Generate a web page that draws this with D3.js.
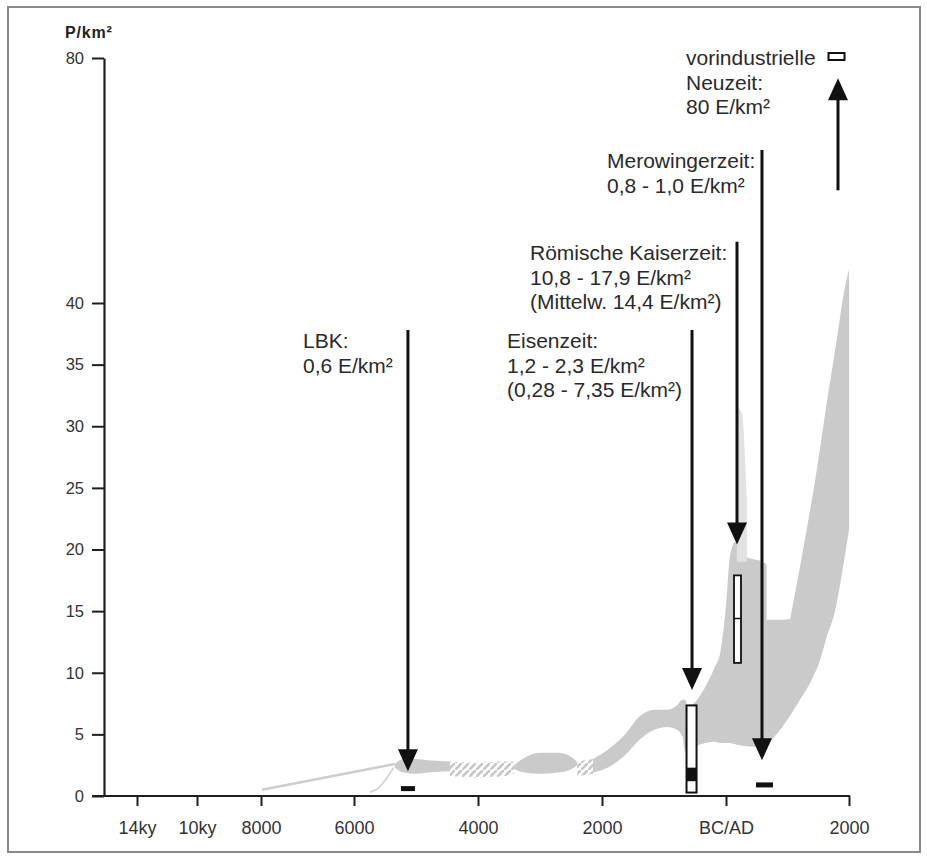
<!DOCTYPE html>
<html><head><meta charset="utf-8">
<script src="https://cdn.jsdelivr.net/npm/d3@7"></script>
<style>
html,body{margin:0;padding:0;background:#fff;}
svg{display:block;font-family:"Liberation Sans",Arial,Helvetica,sans-serif;}
</style></head>
<body><svg id="c" width="927" height="859"></svg>
<script>
// ---- data ----
const xYears = [-14000, -10000, -8000, -6000, -4000, -2000, 0, 2000];
const xTickLabels = ["14ky", "10ky", "8000", "6000", "4000", "2000", "BC/AD", "2000"];
const yTicks = [0, 5, 10, 15, 20, 25, 30, 35, 40, 80];

// thin early lines [year, value]
const lineEarly = [[-7980, 0.5], [-5340, 2.6]];
const lineEarly2 = [[-5742, 0.3], [-5620, 0.6], [-5480, 1.4], [-5360, 2.3]];

// bands [year, low, high]
const bandLBK = [[-5340, 2.3, 2.6], [-5200, 1.9, 3.0], [-5000, 1.8, 3.0], [-4800, 1.9, 2.9], [-4452, 2.0, 2.8]];
const hatchA = [[-4452, 1.6, 2.8], [-4000, 1.5, 2.7], [-3600, 1.6, 2.8], [-3420, 1.8, 2.8]];
const bandBlob = [[-3420, 2.2, 2.5], [-3250, 1.9, 3.1], [-3000, 1.8, 3.5], [-2700, 1.9, 3.5], [-2450, 2.3, 3.0], [-2400, 2.5, 2.7]];
const hatchB = [[-2400, 1.6, 2.8], [-2145, 1.8, 3.0]];
const bandMain = [[-2145, 1.9, 3.0], [-1871, 2.4, 3.9], [-1629, 3.3, 5.0], [-1387, 4.6, 6.5], [-1145, 5.4, 7.0],
  [-952, 5.6, 7.0], [-800, 5.4, 7.3], [-700, 4.8, 7.8], [-660, 3.6, 7.8], [-613, 3.6, 7.2], [-500, 4.0, 7.6],
  [-339, 4.3, 8.8], [-177, 4.4, 10.5], [-98, 4.3, 11.5], [0, 4.3, 15.5], [65, 4.3, 19.5], [150, 4.2, 20.6],
  [260, 4.1, 19.6], [450, 4.0, 19.2], [600, 4.0, 19.0], [660, 4.0, 18.8]];
const bandLate = [[640, 4.0, 14.3], [900, 5.5, 14.3], [1203, 7.8, 14.5], [1400, 9.5, 16], [1528, 11, 18.5],
  [1642, 13, 20], [1772, 15, 23], [1900, 18.5, 25], [2000, 21.6, 27]];
const bandArm = [[1041, 14.0, 14.3], [1203, 14.0, 18.6], [1480, 15.5, 26.6], [1642, 18.6, 32], [1800, 21, 37],
  [1935, 23, 42.6], [2000, 23, 45.5]];
const bandSpike = [[175, 19, 31.6], [260, 19, 31.0], [340, 19, 24]];

// annotations
const arrowYears = [-5130, -548, 179, 585, 1821];
const arrowFrom = [37.8, 37.8, 50, 65, 58.4];
const arrowTo = [2.0, 8.6, 20.4, 2.9, 76.7];
const labelLines = [
  ["LBK:", "0,6 E/km²"],
  ["Eisenzeit:", "1,2 - 2,3 E/km²", "(0,28 - 7,35 E/km²)"],
  ["Römische Kaiserzeit:", "10,8 - 17,9 E/km²", "(Mittelw. 14,4 E/km²)"],
  ["Merowingerzeit:", "0,8 - 1,0 E/km²"],
  ["vorindustrielle", "Neuzeit:", "80 E/km²"]
];
// markers
const markerYears = [-5130, -556, 187, 626, 1797];
const markerLo = [0.6, 0.28, 10.8, 0.8, 80];
const markerHi = [0.6, 7.35, 17.9, 1.0, 80];
const eisenCore = [1.2, 2.3];
const roemMean = 14.4;

// ---- drawing ----
const svg = d3.select("#c");
const x = d3.scaleLinear().domain(xYears).range([137, 197, 261, 354, 478, 602, 726, 849]);
const y = d3.scaleLinear().domain([0, 40, 80]).range([796, 303, 58]);

// frame
svg.append("rect").attr("x", 8).attr("y", 7).attr("width", 912).attr("height", 845)
  .attr("fill", "none").attr("stroke", "#8a8a8a").attr("stroke-width", 2);

const defs = svg.append("defs");
const pat = defs.append("pattern").attr("id", "hatch").attr("patternUnits", "userSpaceOnUse")
  .attr("width", 7).attr("height", 7);
pat.append("path").attr("d", "M-1,8 L8,-1").attr("stroke", "#c6c6c6").attr("stroke-width", 2.6);

const area = d3.area().x(d => x(d[0])).y0(d => y(d[1])).y1(d => y(d[2])).curve(d3.curveMonotoneX);
const gBand = svg.append("g");
[bandLBK, bandBlob, bandMain, bandLate, bandArm].forEach(b => {
  gBand.append("path").attr("d", area(b)).attr("fill", "#cacaca");
});
[hatchA, hatchB].forEach(b => {
  gBand.append("path").attr("d", area(b)).attr("fill", "url(#hatch)");
});
gBand.append("path").attr("d", area(bandSpike)).attr("fill", "#e2e2e2");

const line = d3.line().x(d => x(d[0])).y(d => y(d[1])).curve(d3.curveMonotoneX);
gBand.append("path").attr("d", line(lineEarly)).attr("fill", "none").attr("stroke", "#cdcdcd").attr("stroke-width", 2.5);
gBand.append("path").attr("d", line(lineEarly2)).attr("fill", "none").attr("stroke", "#cfcfcf").attr("stroke-width", 1.6);

// axes
const yAxis = d3.axisLeft(y).tickValues(yTicks).tickSize(12).tickPadding(8).tickSizeOuter(0);
const gy = svg.append("g").attr("transform", "translate(104,0)").call(yAxis);
gy.select(".domain").attr("stroke", "#1e1e1e").attr("stroke-width", 2.2);
gy.selectAll(".tick line").attr("stroke", "#1e1e1e").attr("stroke-width", 2);
gy.selectAll(".tick text").attr("font-size", 16.5).attr("fill", "#333").attr("font-family", "Liberation Sans, Arial, sans-serif");

const xAxis = d3.axisBottom(x).tickValues(xYears).tickFormat((d, i) => xTickLabels[i]).tickSize(10).tickPadding(15).tickSizeOuter(0);
const gx = svg.append("g").attr("transform", "translate(0,796)").call(xAxis);
gx.select(".domain").remove();
gx.append("line").attr("x1", 92).attr("x2", x(2000) + 1).attr("y1", 0).attr("y2", 0)
  .attr("stroke", "#1e1e1e").attr("stroke-width", 2.2);
gx.selectAll(".tick line").attr("stroke", "#1e1e1e").attr("stroke-width", 2);
gx.selectAll(".tick text").attr("font-size", 18).attr("fill", "#333").attr("font-family", "Liberation Sans, Arial, sans-serif");

svg.append("text").attr("x", 65).attr("y", 38).attr("font-size", 16).attr("font-weight", "bold")
  .attr("letter-spacing", 0.8).attr("fill", "#222").text("P/km²");

// markers
const gm = svg.append("g");
// LBK
gm.append("rect").attr("x", x(markerYears[0]) - 7).attr("y", y(markerLo[0]) - 2.5).attr("width", 14).attr("height", 5).attr("fill", "#111");
// Eisenzeit
gm.append("rect").attr("x", x(markerYears[1]) - 5).attr("y", y(markerHi[1])).attr("width", 10)
  .attr("height", y(markerLo[1]) - y(markerHi[1])).attr("fill", "#fff").attr("stroke", "#111").attr("stroke-width", 2);
gm.append("rect").attr("x", x(markerYears[1]) - 5).attr("y", y(eisenCore[1])).attr("width", 10)
  .attr("height", y(eisenCore[0]) - y(eisenCore[1])).attr("fill", "#111");
// Römische
gm.append("rect").attr("x", x(markerYears[2]) - 3.5).attr("y", y(markerHi[2])).attr("width", 7)
  .attr("height", y(markerLo[2]) - y(markerHi[2])).attr("fill", "#fff").attr("stroke", "#111").attr("stroke-width", 1.8);
gm.append("line").attr("x1", x(markerYears[2]) - 3.5).attr("x2", x(markerYears[2]) + 3.5)
  .attr("y1", y(roemMean)).attr("y2", y(roemMean)).attr("stroke", "#111").attr("stroke-width", 1.5);
// Merowinger
gm.append("rect").attr("x", x(markerYears[3]) - 8.5).attr("y", (y(markerHi[3]) + y(markerLo[3])) / 2 - 2.5).attr("width", 17).attr("height", 5).attr("fill", "#111");
// vorindustrielle
gm.append("rect").attr("x", x(markerYears[4]) - 8).attr("y", y(markerLo[4]) - 5).attr("width", 16).attr("height", 7)
  .attr("fill", "#fff").attr("stroke", "#111").attr("stroke-width", 2);

// arrows
const ga = svg.append("g");
arrowYears.forEach((yr, i) => {
  const ax = x(yr), y0 = y(arrowFrom[i]), y1 = y(arrowTo[i]);
  const dir = y1 > y0 ? 1 : -1;
  const headLen = 22, half = 10;
  ga.append("line").attr("x1", ax).attr("x2", ax).attr("y1", y0).attr("y2", y1 - dir * headLen + dir * 2)
    .attr("stroke", "#111").attr("stroke-width", 3);
  ga.append("path").attr("d", `M${ax - half},${y1 - dir * headLen}L${ax + half},${y1 - dir * headLen}L${ax},${y1}Z`).attr("fill", "#111");
});

// labels
const labelPos = [[303, 348], [507, 348], [530, 260], [607, 168], [686, 65]];
labelLines.forEach((lines, i) => {
  const t = svg.append("text").attr("x", labelPos[i][0]).attr("y", labelPos[i][1])
    .attr("font-size", 21).attr("fill", "#2a2a2a");
  lines.forEach((s, j) => {
    t.append("tspan").attr("x", labelPos[i][0]).attr("dy", j === 0 ? 0 : 24.5).text(s);
  });
});
</script></body></html>
